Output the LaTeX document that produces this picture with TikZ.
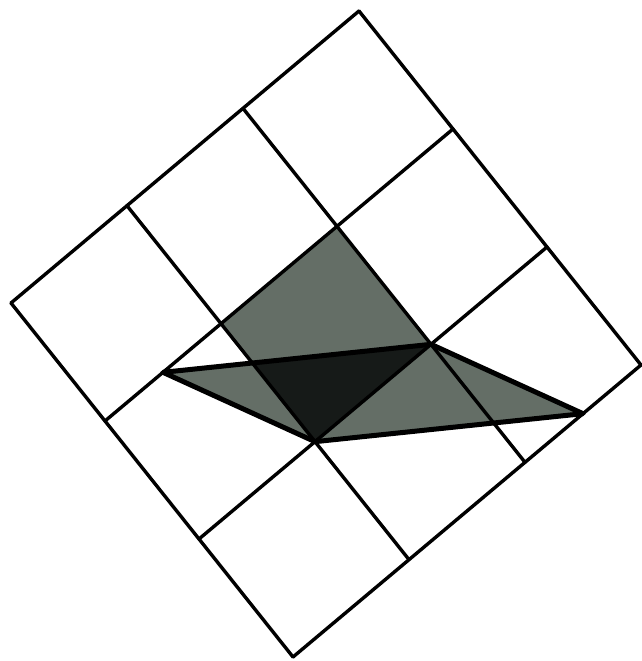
\documentclass[tikz,border=0pt]{standalone}
\definecolor{cellgray}{RGB}{100,110,102}
\definecolor{overlapgray}{RGB}{22,26,24}

\begin{document}
\begin{tikzpicture}[
  x=1pt, y=1pt,
  gridline/.style={line width=3.4pt, line cap=round},
  edge/.style={line width=5pt, line join=round, line cap=round},
]

% Frame: 641 x 661
\fill[white] (0,0) rectangle (641,-661);
\useasboundingbox (0,0) rectangle (641,-661);

% Tilted grid, 1 unit = one cell
\begin{scope}[shift={(359pt,-11pt)}, x={(94pt,-118pt)}, y={(-116pt,-97.33pt)}]

% Corners of the unit square and the parallelogram
\coordinate (sqA) at (1,1);
\coordinate (sqB) at (2,1);
\coordinate (sqC) at (2,2);
\coordinate (sqD) at (1,2);
\coordinate (pL) at (1,2.5);
\coordinate (pR) at (3,0.5);

% Shaded unit square
\fill[cellgray] (sqA) -- (sqB) -- (sqC) -- (sqD) -- cycle;

% Shaded parallelogram
\fill[cellgray] (pL) -- (sqB) -- (pR) -- (sqC) -- cycle;

% Overlap of square and left triangle
\begin{scope}
  \clip (sqA) -- (sqB) -- (sqC) -- (sqD) -- cycle;
  \fill[overlapgray] (pL) -- (sqB) -- (sqC) -- cycle;
\end{scope}

% Grid
\foreach \k in {0,...,3} {
  \draw[gridline] (\k,0) -- (\k,3);
  \draw[gridline] (0,\k) -- (3,\k);
}

% Outline of the parallelogram
\draw[edge] (pL) -- (sqB) -- (pR) -- (sqC) -- cycle;

\end{scope}

\end{tikzpicture}
\end{document}
